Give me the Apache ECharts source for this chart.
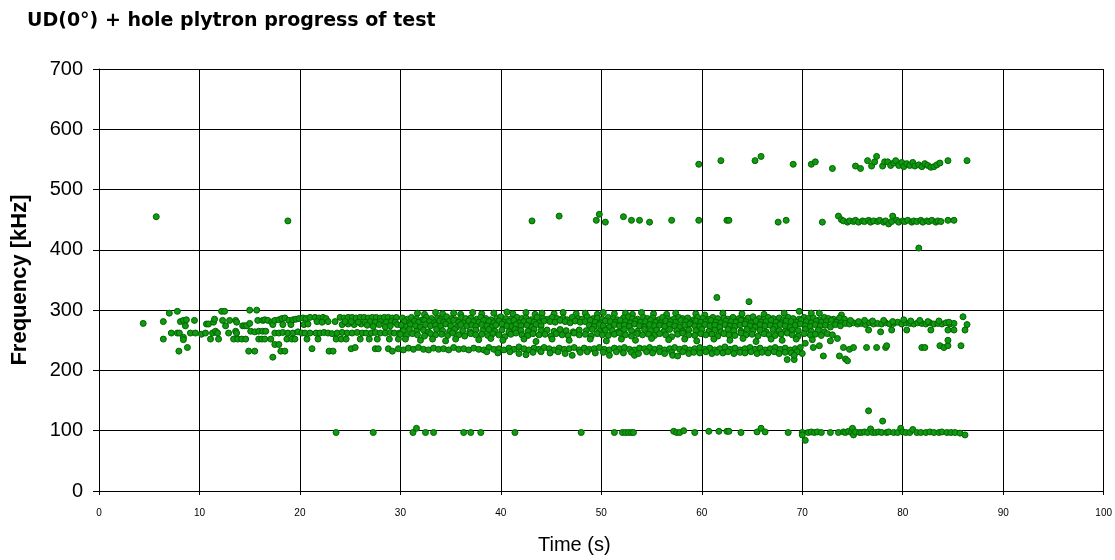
<!DOCTYPE html>
<html>
<head>
<meta charset="utf-8">
<script src="https://cdn.jsdelivr.net/npm/echarts@6/dist/echarts.min.js"></script>
<style>
    html, body { margin: 0; padding: 0; background: #fff; }
    #chart { width: 1115px; height: 560px; }
</style>
</head>
<body>
<div id="chart"></div>
<script>
// values: [time (s), frequency (kHz)]
const xTicks = [0, 10, 20, 30, 40, 50, 60, 70, 80, 90, 100];
const yTicks = [0, 100, 200, 300, 400, 500, 600, 700];

const line100 = [
    [23.6,97],[27.3,97],[31.25,97],[31.6,104],[32.5,97],[33.3,97],[36.3,97],[37.0,97],[38.0,97],[41.4,97],
    [48.0,97],[51.3,97],[52.1,97],[52.4,97],[52.7,97],[53.0,97],[53.2,97],[57.2,99],[57.5,97],[57.8,97],
    [58.2,100],[59.3,97],[60.7,99],[61.7,99],[62.5,99],[62.7,99],[63.9,97],[65.5,98],[65.9,104],[66.3,98],
    [68.6,97],[70.0,97],[70.0,93],[70.3,84],[70.6,97],[70.9,98],[71.2,97],[71.5,98],[71.9,97],[72.8,97],
    [73.6,97],[74.1,98],[74.3,97],[74.6,99],[74.9,97],[75.0,104],[75.1,93],[75.3,98],[75.7,97],[75.9,97],
    [76.2,98],[76.5,97],[76.8,103],[77.0,97],[77.3,97],[77.6,98],[77.9,97],[78.4,97],[78.6,98],[79.1,97],
    [79.5,97],[79.8,104],[80.0,98],[80.3,97],[80.7,97],[81.0,102],[81.4,97],[81.8,97],[82.3,97],[82.7,98],
    [83.1,97],[83.6,97],[83.9,98],[84.4,97],[84.8,97],[85.2,97],[85.7,96],[86.2,93]
];

const strays = [[5.7,455],[18.8,448],[61.5,321],[64.7,314],[76.6,133],[78.0,116],[81.6,403]];

const line450 = [
    [43.1,448],[45.8,456],[49.5,449],[49.8,459],[50.4,446],[52.2,455],[53.0,449],[53.8,449],[54.8,446],[57.0,449],
    [59.7,449],[62.5,449],[62.7,449],[67.6,446],[68.4,449],[72.0,446],[73.6,456],[73.9,450],[74.1,448],[74.5,446],
    [74.7,448],[75.1,447],[75.3,449],[75.6,446],[76.0,448],[76.2,447],[76.6,449],[76.8,446],[77.1,448],[77.5,447],
    [77.7,449],[78.1,446],[78.3,448],[78.6,443],[78.9,447],[79.0,456],[79.4,449],[79.6,446],[80.0,448],[80.2,447],
    [80.5,449],[80.9,446],[81.1,448],[81.4,447],[81.8,449],[82.0,446],[82.4,448],[82.6,447],[82.9,449],[83.3,446],
    [83.5,448],[83.8,447],[84.5,449],[85.1,449]
];

const line540 = [
    [59.7,542],[61.9,548],[65.3,548],[65.9,555],[69.1,542],[70.9,542],[71.3,546],[73.0,535],[75.3,539],[75.8,535],
    [76.5,548],[76.9,539],[77.2,546],[77.4,555],[78.0,539],[78.2,546],[78.5,546],[78.8,540],[79.1,544],[79.3,548],
    [79.6,540],[79.9,545],[80.1,538],[80.4,543],[80.7,540],[81.0,545],[81.2,539],[81.6,541],[81.9,538],[82.2,543],
    [82.5,540],[82.8,537],[83.1,538],[83.4,541],[83.7,544],[84.5,548],[86.4,548]
];

// start of the test, 4 - 30 s
const earlyBand = [
    [4.4,278],[6.4,281],[7.0,295],[7.8,298],[8.1,281],[8.4,283],[8.6,274],[8.7,284],[9.5,283],[10.7,277],
    [10.9,277],[11.4,280],[11.5,285],[12.2,298],[12.5,298],[12.3,283],[12.6,274],[13.0,283],[13.6,283],[13.7,280],
    [14.3,274],[14.5,274],[14.7,274],[15.0,278],[15.0,300],[15.7,300],[15.8,283],[16.3,283],[16.5,284],[16.8,283],
    [17.2,280],[17.3,276],[17.5,283],[17.9,284],[18.2,286],[18.3,276],[18.5,287],[18.9,283],[19.1,276],[19.3,284],
    [19.6,285],[19.9,286],[20.3,287],[20.6,286],[21.0,288],[20.4,276],[20.8,277],[21.5,288],[21.9,287],[22.3,288],
    [22.6,286],[21.7,281],[22.2,280],[22.8,281],[23.5,281],[24.0,288],[24.4,287],[24.8,288],[25.2,288],[25.6,287],
    [26.0,288],[24.2,276],[24.8,277],[25.4,276],[26.1,277],[24.5,281],[25.1,281],[25.8,280],[26.4,288],[26.8,287],
    [27.2,288],[27.6,288],[28.0,287],[28.4,288],[28.8,288],[29.2,287],[29.6,288],[26.5,280],[27.0,281],[27.5,280],
    [28.0,281],[28.6,280],[29.1,281],[29.5,280],[26.7,275],[27.3,273],[27.9,276],[28.5,272],[29.0,274],[29.7,276],
    [7.2,262],[7.8,262],[8.0,262],[8.4,255],[8.4,251],[9.1,262],[9.6,262],[10.2,260],[10.6,262],[11.1,252],
    [11.3,262],[11.6,265],[11.8,262],[11.9,252],[12.9,262],[13.4,252],[13.6,265],[13.7,262],[13.8,252],[14.2,252],
    [14.6,252],[15.1,265],[15.5,264],[15.9,252],[15.9,265],[16.2,252],[16.3,265],[16.5,252],[16.6,265],[17.1,252],
    [17.5,262],[17.9,262],[18.3,263],[18.7,252],[18.8,262],[19.3,262],[19.2,252],[19.5,252],[19.8,264],[20.2,262],
    [20.5,262],[20.7,252],[21.0,262],[21.8,252],[21.6,262],[22.0,262],[22.4,263],[22.8,262],[23.2,261],[23.6,252],
    [23.7,262],[24.1,252],[24.2,263],[24.6,252],[24.7,262],[25.2,262],[25.7,263],[26.2,262],[26.0,252],[26.6,262],
    [26.9,252],[27.1,262],[27.5,263],[27.7,252],[28.0,262],[28.5,262],[28.9,252],[29.0,263],[29.4,262],[29.8,252],
    [29.9,262],[6.4,252],
    [7.95,232],[8.8,238],[14.9,232],[15.5,232],[17.3,222],[17.5,243],[17.9,243],[18.1,232],[18.5,232],[21.2,236],
    [22.9,232],[23.3,232],[25.1,236],[25.5,238],[27.5,236],[27.8,236],[28.8,236],[29.2,232]
];

// upper rows of the main band, 270 - 300 kHz
const upperBand = [
    [31.7,295],[32.4,293],[33.5,296],[34.2,294],[35.3,295],[36.0,293],[37.2,296],[38.1,294],[39.3,295],[40.6,297],
    [41.2,294],[42.5,296],[43.4,293],[44.1,295],[45.3,294],[46.2,296],[47.5,294],[48.4,295],[49.6,293],[50.2,296],
    [51.3,294],[52.4,295],[53.1,293],[54.0,296],[55.2,294],[56.5,293],[57.4,295],[59.4,294],[60.3,292],[62.1,295],
    [64.0,294],[66.2,293],[68.2,295],[69.7,298],[70.9,295],[71.7,295],[73.9,292],
    [30.2,287],[30.7,285],[31.1,288],[31.6,286],[32.2,284],[32.6,288],[33.1,286],[33.7,287],[34.0,285],[34.6,289],
    [35.1,286],[35.5,284],[36.1,288],[36.5,286],[37.0,287],[37.6,285],[38.0,288],[38.5,286],[39.0,284],[39.6,287],
    [40.0,289],[40.5,286],[41.0,285],[41.6,288],[42.1,286],[42.5,287],[43.0,284],[43.6,288],[44.2,286],[44.7,285],
    [45.1,288],[45.6,286],[46.2,287],[46.6,284],[47.1,288],[47.7,286],[48.1,285],[48.6,289],[49.2,286],[49.6,287],
    [50.1,285],[50.7,288],[51.2,286],[51.6,284],[52.2,287],[52.7,289],[53.1,286],[53.6,285],[54.2,288],[54.6,286],
    [55.1,287],[55.7,284],[56.1,288],[56.6,286],[57.2,285],[57.7,288],[58.1,286],[58.6,287],[59.2,284],[59.6,288],
    [60.1,286],[60.7,285],[61.1,288],[61.6,286],[62.2,287],[62.6,285],[63.1,288],[63.7,286],[64.1,284],[64.6,287],
    [65.1,289],[65.7,286],[66.2,285],[66.6,288],[67.1,286],[67.7,287],[68.1,284],[68.6,288],[69.1,286],[69.7,285],
    [70.2,288],[70.6,286],[71.1,287],[71.7,284],[72.2,288],[72.6,286],[73.1,285],[73.7,287],[74.2,285],
    [30.4,281],[30.9,279],[31.4,282],[31.8,280],[32.4,283],[32.9,281],[33.4,279],[33.9,282],[34.3,280],[34.8,281],
    [35.3,283],[35.8,280],[36.3,279],[36.8,282],[37.3,281],[37.8,280],[38.3,283],[38.8,281],[39.3,279],[39.8,282],
    [40.3,280],[40.8,281],[41.3,283],[41.8,279],[42.3,281],[42.8,282],[43.3,280],[43.8,279],[44.3,282],[44.9,281],
    [45.4,280],[45.9,283],[46.4,281],[46.9,279],[47.4,282],[47.9,280],[48.4,281],[48.9,283],[49.4,280],[49.9,279],
    [50.4,282],[50.9,281],[51.4,280],[51.9,283],[52.4,281],[52.9,279],[53.4,282],[53.9,280],[54.4,281],[54.9,283],
    [55.4,280],[55.9,279],[56.4,282],[56.9,281],[57.4,280],[57.9,283],[58.4,281],[58.9,279],[59.4,282],[59.9,280],
    [60.4,281],[60.9,283],[61.4,280],[61.9,279],[62.4,282],[62.9,281],[63.4,280],[63.9,283],[64.4,281],[64.9,279],
    [65.4,282],[65.9,280],[66.4,281],[66.9,283],[67.4,280],[67.9,279],[68.4,282],[68.9,281],[69.4,280],[69.9,283],
    [70.4,281],[70.9,279],[71.4,282],[71.9,280],[72.4,281],[72.9,283],[73.4,280],[73.9,279],
    [30.1,275],[30.6,273],[31.0,276],[31.5,274],[32.0,272],[32.5,276],[33.0,274],[33.5,275],[34.0,273],[34.5,277],
    [35.0,274],[35.6,272],[36.0,276],[36.6,274],[37.1,275],[37.5,273],[38.1,276],[38.6,274],[39.1,272],[39.5,275],
    [40.1,277],[40.6,274],[41.1,273],[41.5,276],[42.0,274],[42.6,275],[43.1,272],[43.5,276],[44.0,274],[48.8,275],
    [49.3,273],[49.8,276],[50.2,274],[50.8,272],[51.3,276],[51.8,274],[52.3,275],[52.8,273],[53.3,277],[53.8,274],
    [54.3,272],[54.8,276],[55.3,274],[55.8,275],[56.3,273],[56.8,276],[57.3,274],[57.8,272],[58.3,275],[58.8,277],
    [59.3,274],[59.8,273],[60.3,276],[60.8,274],[61.3,275],[61.8,272],[62.3,276],[62.8,274],[63.3,273],[63.8,275],
    [64.3,277],[64.8,274],[65.3,272],[65.8,276],[66.3,274],[66.8,275],[67.3,273],[67.8,276],[68.3,274],[68.8,272],
    [69.3,275],[69.8,277],[70.3,274],[70.8,273],[71.3,276],[71.8,274],[72.3,275],[72.8,272],[73.3,276],[73.8,274]
];

// middle rows, 245 - 270 kHz
const middleBand = [
    [30.3,266],[30.9,268],[31.6,265],[32.3,267],[32.8,264],[33.6,268],[34.2,266],[34.9,265],[35.4,268],[36.2,266],
    [36.9,264],[37.5,267],[38.2,266],[38.8,268],[39.4,265],[40.1,267],[40.8,264],[41.4,268],[42.0,266],[42.7,265],
    [43.3,268],[44.0,266],[44.6,267],[45.3,265],[45.9,268],[46.5,266],[47.2,264],[47.8,267],[48.5,266],[49.1,268],
    [49.8,265],[50.4,267],[51.1,266],[51.7,264],[52.3,268],[53.0,266],[53.6,265],[54.3,268],[54.9,266],[55.5,267],
    [56.2,264],[56.8,268],[57.5,266],[58.1,265],[58.7,267],[59.4,266],[60.0,268],[60.7,265],[61.3,267],[61.9,264],
    [62.6,268],[63.2,266],[63.9,265],[64.5,268],[65.1,266],[65.8,267],[66.4,264],[67.1,268],[67.7,266],[68.3,265],
    [69.0,267],[69.6,266],[70.3,268],[70.9,265],[71.6,267],[72.2,264],
    [30.0,260],[30.6,258],[31.2,261],[31.7,259],[32.4,257],[33.0,261],[33.5,259],[34.1,260],[34.7,258],[35.2,262],
    [35.8,259],[36.4,257],[37.0,261],[37.5,259],[38.1,260],[38.7,258],[39.2,261],[39.8,259],[40.4,256],[41.0,260],
    [41.5,262],[42.1,259],[42.7,258],[43.2,261],[43.8,259],[44.4,260],[45.0,257],[45.5,261],[46.1,259],[46.7,258],
    [47.3,262],[47.8,259],[48.4,260],[49.0,257],[49.6,261],[50.1,259],[50.7,258],[51.3,260],[51.8,262],[52.4,259],
    [53.0,257],[53.6,261],[54.1,259],[54.7,260],[55.3,258],[55.8,261],[56.4,259],[57.0,256],[57.6,260],[58.1,262],
    [58.7,259],[59.3,258],[59.9,261],[60.4,259],[61.0,260],[61.6,257],[62.2,261],[62.7,259],[63.3,258],[63.9,262],
    [64.4,259],[65.0,260],[65.6,257],[66.2,261],[66.7,259],[67.3,258],[67.9,260],[68.5,262],[69.0,259],[69.6,257],
    [70.2,261],[70.8,259],[71.3,260],[71.9,258],[72.5,261],[73.0,259],
    [30.5,252],[32.0,250],[33.2,252],[34.5,249],[35.5,252],[37.8,251],[39.0,253],[40.2,250],[42.3,252],[43.5,248],
    [45.1,252],[46.8,250],[48.9,252],[50.5,249],[52.0,252],[53.4,250],[55.0,253],[56.7,251],[58.3,252],[59.5,249],
    [61.2,252],[62.8,250],[64.1,253],[65.4,248],[66.9,252],[68.0,250],[69.4,252],[71.0,251],[72.8,249],[73.5,253]
];

// lower rows, 215 - 240 kHz
const lowerBand = [
    [29.8,236],[30.3,234],[30.8,237],[31.3,235],[31.8,238],[32.3,235],[32.8,234],[33.3,237],[33.8,235],[34.3,236],
    [34.8,234],[35.3,238],[35.8,235],[36.3,236],[36.8,234],[37.3,237],[37.8,235],[38.3,234],[38.8,238],[39.3,235],
    [39.8,236],[40.3,234],[40.8,237],[41.3,235],[41.8,239],[42.3,236],[42.8,234],[43.3,237],[43.8,235],[44.3,238],
    [44.8,236],[45.3,234],[45.8,237],[46.3,235],[46.8,236],[47.3,238],[47.8,234],[48.3,237],[48.8,235],[49.3,236],
    [49.8,238],[50.3,235],[50.8,234],[51.3,237],[51.8,236],[52.3,238],[52.8,235],[53.3,234],[53.8,237],[54.3,236],
    [54.8,238],[55.3,235],[55.8,237],[56.3,234],[56.8,236],[57.3,238],[57.8,235],[58.3,237],[58.8,234],[59.3,236],
    [59.8,238],[60.3,235],[60.8,237],[61.3,234],[61.8,236],[62.3,239],[62.8,235],[63.3,237],[63.8,234],[64.3,236],
    [64.8,238],[65.3,235],[65.8,237],[66.3,234],[66.8,236],[67.3,238],[67.8,235],[68.3,237],[68.8,234],[69.3,236],
    [69.8,238],
    [38.6,231],[39.7,229],[40.9,231],[41.8,228],[42.5,226],[43.2,230],[44.0,231],[44.9,229],[45.7,231],[46.4,228],
    [47.1,225],[47.9,230],[48.6,231],[49.4,229],[50.2,230],[50.8,225],[51.5,231],[52.2,229],[53.0,230],[53.3,225],
    [53.7,228],[54.5,231],[55.1,229],[55.8,231],[56.3,228],[57.0,230],[57.1,225],[57.6,224],[58.1,231],[58.7,228],
    [59.2,230],[59.8,229],[60.4,231],[61.0,228],[61.5,230],[62.1,229],[62.6,231],[63.2,228],[63.8,230],[64.3,229],
    [64.9,231],[65.5,228],[66.0,230],[66.6,229],[67.2,231],[67.7,228],[68.3,230],[68.9,229],[69.5,231],[70.0,228],
    [68.5,218],[69.2,218],[69.2,225]
];

// end of the test, 70 - 87 s
const tailBand = [
    [74.3,278],[74.7,277],[75.1,279],[75.5,277],[75.9,278],[76.3,276],[76.7,279],[77.1,277],[77.5,278],[77.9,277],
    [78.3,279],[78.7,277],[79.1,278],[79.5,280],[79.9,277],[80.3,279],[80.7,278],[81.1,277],[81.5,279],[81.9,278],
    [82.3,277],[82.7,279],[83.1,277],[83.5,278],[83.9,277],[84.3,279],[84.7,277],[85.1,278],
    [74.8,283],[75.6,281],[76.2,283],[77.0,282],[78.1,283],[79.0,281],[80.1,284],[80.8,282],[81.7,283],[82.5,281],
    [83.6,282],[84.6,280],
    [76.4,238],[77.4,238],[77.8,264],[76.6,267],[78.3,238],[78.4,241],[78.9,267],[80.4,267],[81.9,238],[82.2,238],
    [82.8,267],[83.7,241],[84.1,238],[84.5,241],[84.5,250],[84.5,267],[85.1,267],[85.8,241],[86.0,289],[86.4,276],
    [86.2,267],
    [70.3,245],[71.1,238],[71.7,241],[72.1,224],[73.7,224],[74.1,238],[74.3,219],[74.5,216],[74.7,235],[75.1,238]
];

const allPoints = [].concat(earlyBand, upperBand, middleBand, lowerBand, tailBand,
    line100, line450, line540, strays);

const option = {
    animation: false,
    backgroundColor: '#fff',
    title: {
        text: 'UD(0°) + hole plytron progress of test',
        left: 22,
        top: 7,
        textStyle: {
            fontFamily: '"DejaVu Sans", Arial',
            fontSize: 19,
            fontWeight: 'bold',
            color: '#000'
        }
    },
    grid: {
        left: 99,
        right: 10,
        top: 69,
        bottom: 66
    },
    xAxis: {
        type: 'value',
        min: xTicks[0],
        max: xTicks[xTicks.length - 1],
        interval: 10,
        name: 'Time (s)',
        nameLocation: 'middle',
        nameGap: 44,
        nameTextStyle: {
            fontFamily: 'Arial, "Liberation Sans"',
            fontSize: 20,
            color: '#000',
            padding: [0, 54, 0, 0]
        },
        axisLine: { show: true, onZero: false, lineStyle: { color: '#000', width: 1 } },
        axisTick: { show: true, length: 4, lineStyle: { color: '#000' } },
        axisLabel: { margin: 17, fontFamily: 'Arial, "Liberation Sans"', fontSize: 10, color: '#000' },
        splitLine: { show: true, lineStyle: { color: '#000', width: 1 } }
    },
    yAxis: {
        type: 'value',
        min: yTicks[0],
        max: yTicks[yTicks.length - 1],
        interval: 100,
        name: 'Frequency [kHz]',
        nameLocation: 'middle',
        nameGap: 68,
        nameTextStyle: { fontFamily: 'Arial, "Liberation Sans"', fontSize: 22, fontWeight: 'bold', color: '#000' },
        axisLine: { show: true, lineStyle: { color: '#000', width: 1 } },
        axisTick: { show: true, length: 6, lineStyle: { color: '#000' } },
        axisLabel: { margin: 16, fontFamily: 'Arial, "Liberation Sans"', fontSize: 20, color: '#000' },
        splitLine: { show: true, lineStyle: { color: '#000', width: 1 } }
    },
    series: [{
        name: 'frequency',
        type: 'scatter',
        symbol: 'circle',
        symbolSize: 6,
        itemStyle: {
            color: '#119911',
            borderColor: '#006600',
            borderWidth: 1,
            opacity: 1
        },
        data: allPoints
    }]
};

const chart = echarts.init(document.getElementById('chart'));
chart.setOption(option);
</script>
</body>
</html>
